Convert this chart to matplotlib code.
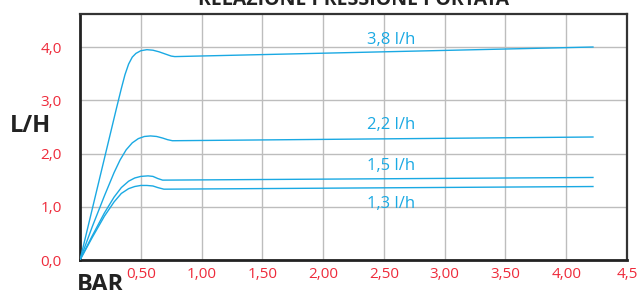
import matplotlib.pyplot as plt
import numpy as np

# curve data (bar, l/h)
x_38 = [0, 0.1, 0.2, 0.3, 0.34, 0.37, 0.4, 0.43, 0.46, 0.5, 0.55, 0.6, 0.65, 0.7, 0.75, 0.78, 4.22]
y_38 = [0, 0.95, 1.9, 2.85, 3.22, 3.48, 3.68, 3.81, 3.88, 3.93, 3.95, 3.94, 3.91, 3.87, 3.83, 3.82, 4.0]

x_22 = [0, 0.1, 0.2, 0.28, 0.33, 0.38, 0.43, 0.48, 0.53, 0.58, 0.63, 0.68, 0.72, 0.76, 4.22]
y_22 = [0, 0.62, 1.2, 1.64, 1.88, 2.07, 2.2, 2.28, 2.32, 2.33, 2.32, 2.29, 2.26, 2.24, 2.31]

x_15 = [0, 0.1, 0.2, 0.28, 0.34, 0.4, 0.45, 0.5, 0.56, 0.6, 0.64, 0.68, 4.22]
y_15 = [0, 0.45, 0.88, 1.18, 1.36, 1.48, 1.54, 1.57, 1.58, 1.57, 1.53, 1.50, 1.55]

x_13 = [0, 0.1, 0.2, 0.28, 0.34, 0.4, 0.45, 0.5, 0.55, 0.6, 0.64, 0.69, 4.22]
y_13 = [0, 0.42, 0.82, 1.09, 1.25, 1.34, 1.38, 1.40, 1.40, 1.39, 1.36, 1.33, 1.38]

curve_labels = ["3,8 l/h", "2,2 l/h", "1,5 l/h", "1,3 l/h"]
label_y = [4.13, 2.53, 1.76, 1.06]

x_ticks = [0.5, 1.0, 1.5, 2.0, 2.5, 3.0, 3.5, 4.0, 4.5]
x_ticklabels = ["0,50", "1,00", "1,50", "2,00", "2,50", "3,00", "3,50", "4,00", "4,5"]
y_ticks = [0, 1, 2, 3, 4]
y_ticklabels = ["0,0", "1,0", "2,0", "3,0", "4,0"]

plt.rcParams["font.family"] = ["Open Sans", "DejaVu Sans"]

blue = "#1aa9e3"
red = "#ee2b3b"

fig = plt.figure(figsize=(6.38, 2.90), dpi=100)
ax = fig.add_axes([80 / 638, 30 / 290, 547 / 638, 246 / 290])

for xs, ys in [(x_38, y_38), (x_22, y_22), (x_15, y_15), (x_13, y_13)]:
    ax.plot(xs, ys, color=blue, linewidth=1.0, zorder=3)

for txt, yy in zip(curve_labels, label_y):
    ax.text(2.56, yy, txt, color=blue, fontsize=12, ha="center", va="center", zorder=4)

ax.set_xlim(0, 4.5)
ax.set_ylim(0, 4.62)
ax.set_xticks(x_ticks)
ax.set_xticklabels(x_ticklabels, color=red, fontsize=11)
ax.set_yticks(y_ticks)
ax.set_yticklabels(y_ticklabels, color=red, fontsize=11)
ax.tick_params(length=0, pad=5)
ax.tick_params(axis="y", pad=13)
ax.grid(True, color="#bdbdbd", linewidth=1)
ax.set_axisbelow(True)

for side in ["left", "bottom"]:
    ax.spines[side].set_linewidth(2.0)
    ax.spines[side].set_color("#222222")
for side in ["top", "right"]:
    ax.spines[side].set_linewidth(1.6)
    ax.spines[side].set_color("#333333")

fig.text(354 / 638, 1 - 5 / 290, "RELAZIONE PRESSIONE PORTATA", fontsize=14,
         fontweight="bold", color="#222222", ha="center", va="baseline")
fig.text(30 / 638, 1 - 126 / 290, "L/H", fontsize=17, fontweight="bold",
         color="#222222", ha="center", va="center")
fig.text(100 / 638, 1 - 291 / 290, "BAR", fontsize=17, fontweight="bold",
         color="#222222", ha="center", va="baseline")

fig.savefig("out.png", dpi=100)
